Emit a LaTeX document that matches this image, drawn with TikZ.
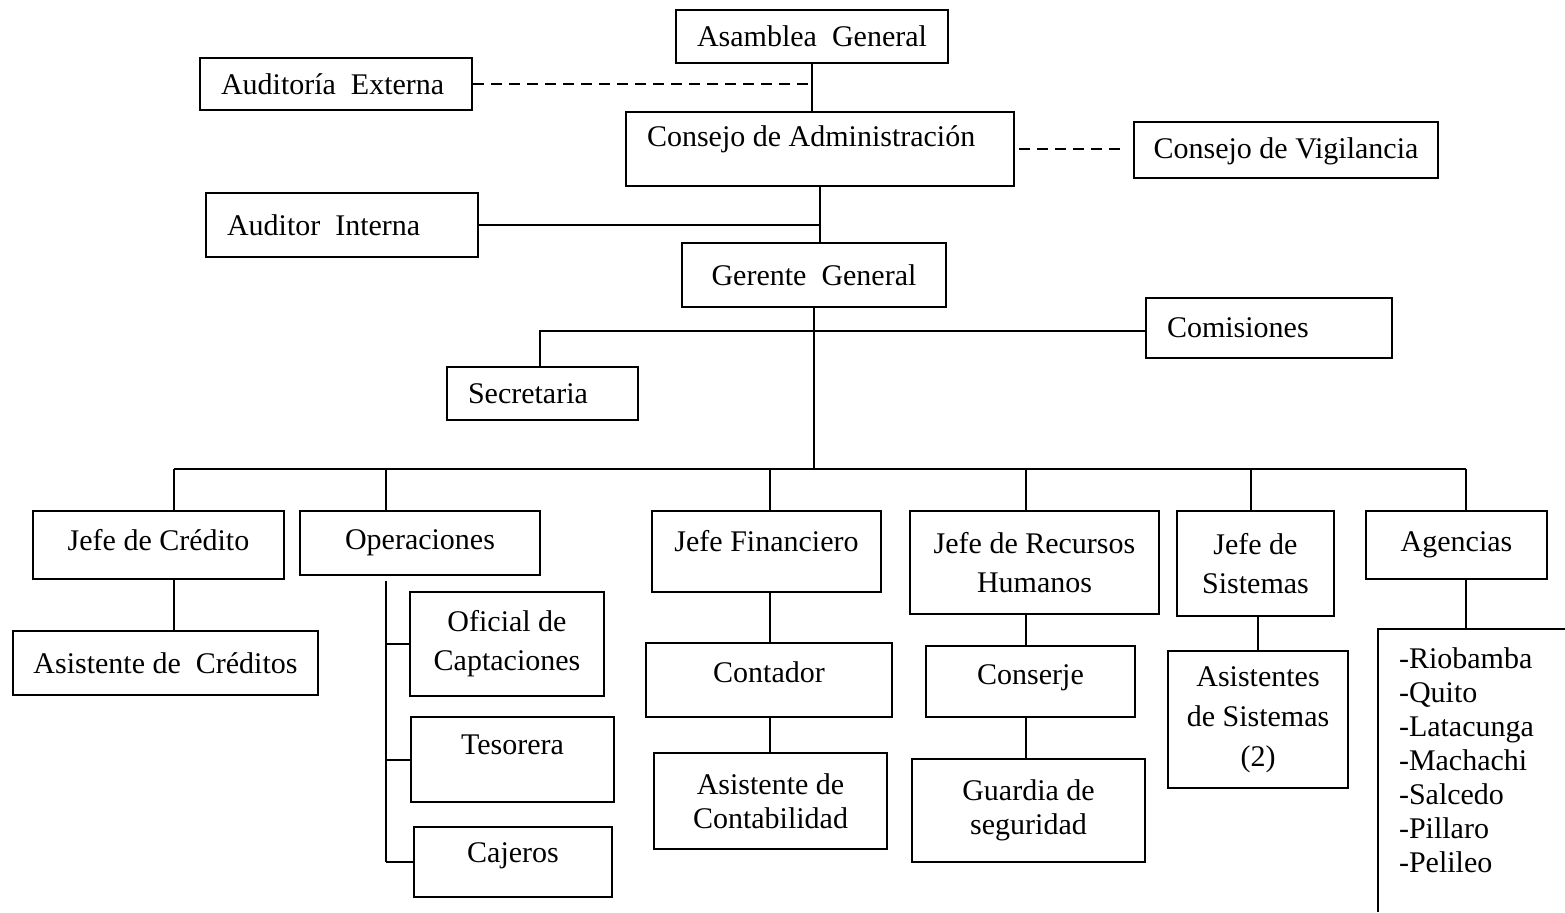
\documentclass[tikz,border=0pt]{standalone}
\usepackage{fontspec}
\setmainfont{Liberation Serif}
\usepackage{tikz}
\usetikzlibrary{positioning,calc}

\begin{document}
\begin{tikzpicture}[
  x=0.5pt, y=-0.5pt, line width=1pt,
  box/.style={rectangle, draw, font=\fontsize{15}{19.5}\selectfont, align=center},
  lbox/.style={box, align=flush left, text width=#1, inner xsep=10.5pt},
  box2/.style={box, font=\fontsize{15}{17}\selectfont},
  dashlink/.style={dash pattern=on 5.5pt off 3.5pt}
]
\useasboundingbox (0,0) rectangle (1565,912);

% direccion
\node[box, minimum width=136pt, minimum height=26.5pt] (asam) at (812,36.5) {Asamblea~ General};
\node[lbox=115pt, minimum height=26pt] (audext) at (336,84) {Auditoría~ Externa};
\node[lbox=173pt, minimum height=37pt, text depth=13pt] (cadm) at (820,149) {Consejo de Administración};
\node[box, minimum width=152pt, minimum height=28pt, text depth=2pt] (vig) at (1286,150) {Consejo de Vigilancia};
\node[lbox=115pt, minimum height=32pt] (audint) at (342,225) {Auditor~ Interna};
\node[box, minimum width=132pt, minimum height=32pt] (ger) at (814,275) {Gerente~ General};
\node[lbox=102pt, minimum height=30pt] (com) at (1269,328) {Comisiones};
\node[lbox=74.5pt, minimum height=26.5pt] (sec) at (542.5,393.5) {Secretaria};

% departamentos
\node[box, minimum width=125.5pt, minimum height=34pt, text depth=5pt] (jcred) at (158.5,545) {Jefe de Crédito};
\node[box, minimum width=120pt, minimum height=32pt] (oper) at (420,543) {Operaciones};
\node[box, minimum width=114.5pt, minimum height=40.5pt, text depth=11pt] (jfin) at (766.5,551.5) {Jefe Financiero};
\node[box, minimum width=124.5pt, minimum height=51.5pt] (jrrhh) at (1034.5,562.5) {Jefe de Recursos\\Humanos};
\node[box, minimum width=78.5pt, minimum height=52.5pt] (jsis) at (1255.5,563.5) {Jefe de\\Sistemas};
\node[box, minimum width=90.5pt, minimum height=34pt] (agen) at (1456.5,545) {Agencias};

% personal
\node[box, minimum width=152.5pt, minimum height=32pt] (acred) at (165.5,663) {Asistente de~ Créditos};
\node[box, minimum width=97pt, minimum height=52pt] (ofic) at (507,644) {Oficial de\\Captaciones};
\node[box, minimum width=101.5pt, minimum height=42.5pt, text depth=15pt] (teso) at (512.5,759.5) {Tesorera};
\node[box, minimum width=99pt, minimum height=35pt, text depth=9pt] (caj) at (513,862) {Cajeros};
\node[box, minimum width=123pt, minimum height=37pt, text depth=8pt] (cont) at (769,680) {Contador};
\node[box2, minimum width=116.5pt, minimum height=48pt] (acont) at (770.5,801) {Asistente de\\Contabilidad};
\node[box, minimum width=104.5pt, minimum height=35.5pt, text depth=7pt] (consj) at (1030.5,681.5) {Conserje};
\node[box2, minimum width=116.5pt, minimum height=51.5pt] (guard) at (1028.5,810.5) {Guardia de\\seguridad};
\node[box, font=\fontsize{15}{20}\selectfont, minimum width=90pt, minimum height=68.5pt] (asis) at (1258,719.5) {Asistentes\\de Sistemas\\(2)};

% agencias
\draw (1565,629) -| (1378,912);
\coordinate (lsttop) at (1466,629);
\node[anchor=north west, align=left, inner sep=0pt, font=\fontsize{15}{17}\selectfont] (ciud) at (1398,647) {-Riobamba\\-Quito\\-Latacunga\\-Machachi\\-Salcedo\\-Pillaro\\-Pelileo};

% lineas
\coordinate (bus) at (815,469);
\coordinate (secup) at (540,331);
\draw (asam.south) -- (asam.south |- cadm.north);
\draw[dashlink] (audext.east) -- (audext.east -| asam.south);
\draw[dashlink, shorten <=2pt, shorten >=5pt] (cadm.east) -- (cadm.east -| vig.west);
\draw (audint.east) -- (audint.east -| cadm.south);
\draw (cadm.south) -- (cadm.south |- ger.north);
\draw (ger.south) -- (ger.south |- bus);
\draw (secup |- sec.north) -- (secup) -- (secup -| com.west);

\foreach \n/\x in {jcred/174, oper/386, jfin/770, jrrhh/1026, jsis/1251, agen/1466}
  \coordinate (b\n) at (\x,469);
\draw (bjcred) -- (bagen);
\foreach \n in {jcred,oper,jfin,jrrhh,jsis,agen}
  \draw (b\n) -- (b\n |- \n.north);

\draw (bjcred |- jcred.south) -- (bjcred |- acred.north);
\draw[shorten <=2.5pt] (boper |- oper.south) -- (boper |- caj.west);
\foreach \n in {ofic,teso,caj}
  \draw (boper |- \n.west) -- (\n.west);
\draw (bjfin |- jfin.south) -- (bjfin |- cont.north);
\draw (bjfin |- cont.south) -- (bjfin |- acont.north);
\draw (bjrrhh |- jrrhh.south) -- (bjrrhh |- consj.north);
\draw (bjrrhh |- consj.south) -- (bjrrhh |- guard.north);
\draw (asis.north |- jsis.south) -- (asis.north);
\draw (bagen |- agen.south) -- (lsttop);
\end{tikzpicture}
\end{document}
